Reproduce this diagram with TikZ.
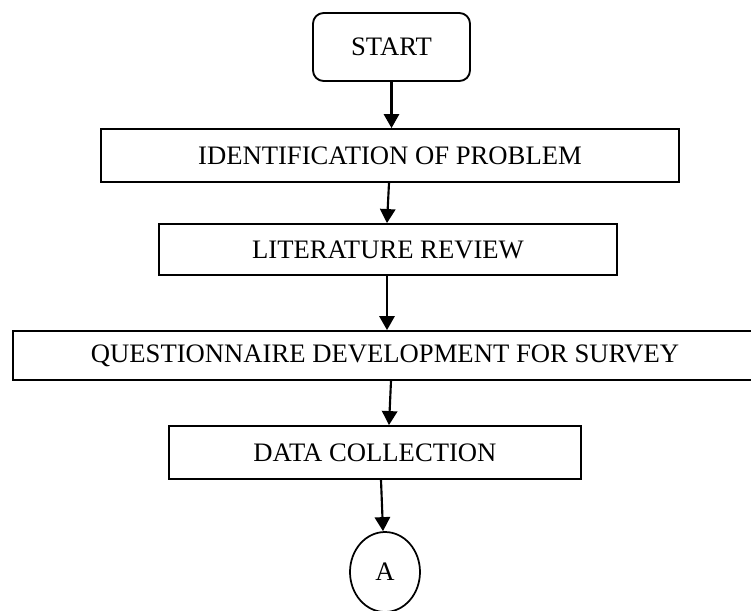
\documentclass[tikz,border=0pt]{standalone}
\usepackage{fontspec}
\setmainfont{Liberation Serif}
\usetikzlibrary{arrows.meta,shapes.geometric}

\tikzset{
  stepbox/.style={draw=black, line width=1.4pt, rectangle, inner sep=0pt,
    font=\fontsize{20}{24}\selectfont, fill=white},
  termbox/.style={stepbox, rounded corners=8pt},
  connector/.style={draw=black, ellipse, line width=1.3pt, inner sep=0pt,
    font=\fontsize{20}{24}\selectfont},
  flow/.style={line width=1.6pt, -{Triangle[length=10.5pt,width=11.5pt]}}
}

\begin{document}
\begin{tikzpicture}[x=0.75pt, y=-0.75pt]
  % page frame, drawing is clipped to it
  \fill[white] (0,0) rectangle (751,611);
  \clip (0,0) rectangle (751,611);

  % process steps
  \node[termbox, minimum width=117.75pt, minimum height=51pt] (start) at (391.5,47) {START};
  \node[stepbox, minimum width=433.5pt, minimum height=39.75pt] (ident) at (390,155.5) {IDENTIFICATION OF PROBLEM};
  \node[stepbox, minimum width=343.5pt, minimum height=38.25pt] (lit) at (388,249.5) {LITERATURE REVIEW};
  \node[stepbox, minimum width=558pt, minimum height=36.75pt] (quest) at (385,355.5) {QUESTIONNAIRE DEVELOPMENT FOR SURVEY};
  \node[stepbox, minimum width=309pt, minimum height=39.75pt] (data) at (375,452.5) {DATA COLLECTION};
  \node[connector, minimum width=52.5pt, minimum height=60pt] (conA) at (385,572) {A};

  % arrows between steps
  \draw[flow] (start.south) -- (start.south |- ident.north);
  \draw[flow] ([xshift=-0.75pt]ident.south) -- ([xshift=-0.75pt]lit.north);
  \draw[flow] ([xshift=-0.75pt]lit.south) -- ([xshift=1.5pt]quest.north);
  \draw[flow] ([xshift=4.5pt]quest.south) -- ([xshift=10.5pt]data.north);
  \draw[flow] ([xshift=4.5pt]data.south) -- ([xshift=-1.5pt]conA.north);
\end{tikzpicture}
\end{document}
